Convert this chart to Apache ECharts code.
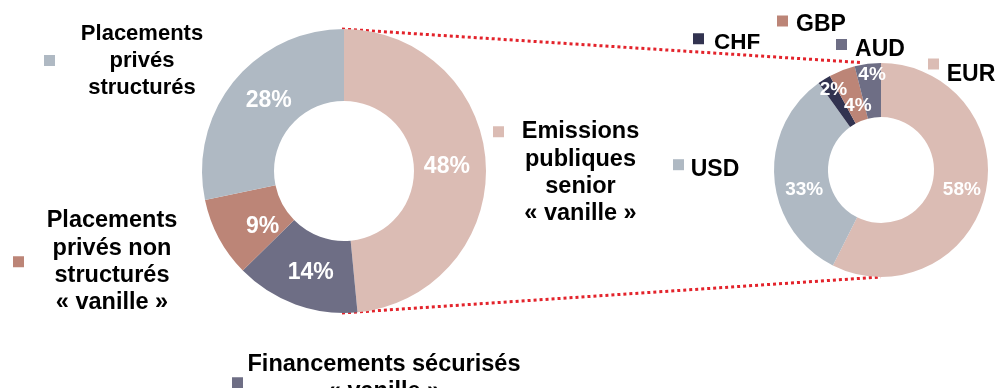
<!DOCTYPE html>
<html>
<head>
<meta charset="utf-8">
<style>
  html, body { margin: 0; padding: 0; background: #ffffff; }
  #chart { width: 1006px; height: 388px; }
</style>
<script src="https://cdn.jsdelivr.net/npm/echarts@6/dist/echarts.min.js"></script>
</head>
<body>
<div id="chart"></div>
<script>
// Répartition des financements par type (donut de gauche)
const typeNames = [
  'Emissions publiques senior « vanille »',
  'Financements sécurisés « vanille »',
  'Placements privés non structurés « vanille »',
  'Placements privés structurés'
];
const typeValues = [48, 14, 9, 28];
const typeLegendLines = [
  ['Emissions', 'publiques', 'senior', '« vanille »'],
  ['Financements sécurisés', '« vanille »'],
  ['Placements', 'privés non', 'structurés', '« vanille »'],
  ['Placements', 'privés', 'structurés']
];

// Répartition des émissions publiques par devise (donut de droite)
const currencyNames = ['EUR', 'USD', 'CHF', 'GBP', 'AUD'];
const currencyValues = [58, 33, 2, 4, 4];

const typeColors = ['#DBBCB4', '#6E6E85', '#BC8577', '#AFB9C3'];
const currencyColors = ['#DBBCB4', '#AFB9C3', '#323350', '#BC8577', '#6E6E85'];

// Donut geometry (pixels)
const leftPie = { center: [344, 171], radius: [70, 142] };
const rightPie = { center: [881, 170], radius: [53, 107] };

// Small nudges for the in-ring percentage labels
const typeLabelShift = [[-3, 1], [3, 2], [12, 6], [7, -4]];
const currencyLabelShift = [[3, 1], [3, 14], [-5, -12], [6, 10], [1, -16]];

const FONT = '"Liberation Sans", Arial, sans-serif';
const ICON = 11;

// Mid-ring point of slice i, measured clockwise from 12 o'clock
function midRingOffset(values, i, pie) {
  const total = values.reduce((a, b) => a + b, 0);
  const before = values.slice(0, i).reduce((a, b) => a + b, 0);
  const ang = (before + values[i] / 2) / total * 2 * Math.PI;
  const r = (pie.radius[0] + pie.radius[1]) / 2;
  return [r * Math.sin(ang), -r * Math.cos(ang)];
}

// Labels are anchored at the donut centre and pushed out to the ring
function pieData(names, values, colors, shifts, pie) {
  return names.map((n, i) => {
    const p = midRingOffset(values, i, pie);
    return {
      name: n,
      value: values[i],
      itemStyle: { color: colors[i] },
      label: { position: 'center', offset: [p[0] + shifts[i][0], p[1] + shifts[i][1]] }
    };
  });
}

// Legend entry: square at (left, markerY) with a centred text block beside it.
// padBefore / padAfter are blank heights (px) that move the text relative to the square.
function blockLegend(name, lines, o) {
  const pb = o.padBefore || 0;
  const pa = o.padAfter || 0;
  const rows = [];
  if (pb) rows.push('{s| }');
  lines.forEach(l => rows.push('{t|' + l + '}'));
  if (pa) rows.push('{e| }');
  const blockH = pb + pa + lines.length * o.lineHeight;
  const blockTop = o.markerY - blockH / 2;
  // the legend is placed by its visible box: the first glyph row or the square
  const firstRowH = pb || o.lineHeight;
  const boxTop = Math.min(o.markerY - ICON / 2, blockTop + (firstRowH - o.fontSize) / 2);
  const base = {
    width: o.width,
    align: 'center',
    fontFamily: FONT,
    fontWeight: 'bold',
    fontSize: o.fontSize,
    color: '#000000'
  };
  return {
    data: [name],
    left: o.left,
    top: boxTop,
    padding: 0,
    orient: 'vertical',
    icon: 'rect',
    itemWidth: ICON,
    itemHeight: ICON,
    selectedMode: false,
    formatter: () => rows.join('\n'),
    textStyle: {
      rich: {
        s: Object.assign({}, base, { lineHeight: pb }),
        e: Object.assign({}, base, { lineHeight: pa }),
        t: Object.assign({}, base, { lineHeight: o.lineHeight })
      }
    }
  };
}

const legends = [
  blockLegend(typeNames[0], typeLegendLines[0], { left: 493, markerY: 131.5, width: 143, lineHeight: 27.3, fontSize: 23.5, padBefore: 82 }),
  blockLegend(typeNames[1], typeLegendLines[1], { left: 232, markerY: 382.5, width: 272, lineHeight: 27, fontSize: 23.5, padAfter: 10 }),
  blockLegend(typeNames[2], typeLegendLines[2], { left: 13, markerY: 261.5, width: 166, lineHeight: 27.3, fontSize: 23.5 }),
  blockLegend(typeNames[3], typeLegendLines[3], { left: 44, markerY: 60.5, width: 164, lineHeight: 27, fontSize: 22 }),
  // currency codes: a small blank above lowers the word under its square's centre
  blockLegend('EUR', ['EUR'], { left: 928, markerY: 64, width: 54, lineHeight: 27, fontSize: 23, padBefore: 21 }),
  blockLegend('USD', ['USD'], { left: 673, markerY: 164.7, width: 52, lineHeight: 27, fontSize: 23, padBefore: 10 }),
  blockLegend('CHF', ['CHF'], { left: 693, markerY: 38.5, width: 56, lineHeight: 27, fontSize: 22.5, padBefore: 9 }),
  blockLegend('GBP', ['GBP'], { left: 777, markerY: 21, width: 56, lineHeight: 27, fontSize: 23, padBefore: 7 }),
  blockLegend('AUD', ['AUD'], { left: 836, markerY: 44.5, width: 56, lineHeight: 27, fontSize: 23, padBefore: 10 })
];

// Red dotted connectors from the left donut to the right one
const rad = a => a * Math.PI / 180;
const topStart = [leftPie.center[0] - 2, leftPie.center[1] - leftPie.radius[1]];
const topEnd = [rightPie.center[0] - rightPie.radius[1] * Math.sin(rad(10)),
                rightPie.center[1] - rightPie.radius[1] * Math.cos(rad(10)) - 2];
const botStart = [leftPie.center[0] - 2, leftPie.center[1] + leftPie.radius[1]];
const botEnd = [rightPie.center[0], rightPie.center[1] + rightPie.radius[1]];

const connectorStyle = { stroke: '#E3232B', lineWidth: 3, lineDash: [3, 3] };

function donut(pie, names, values, colors, shifts, fontSize) {
  return {
    type: 'pie',
    z: 3,
    center: pie.center,
    radius: pie.radius,
    startAngle: 90,
    clockwise: true,
    avoidLabelOverlap: false,
    minShowLabelAngle: 0,
    silent: true,
    label: {
      show: true,
      formatter: '{c}%',
      color: '#ffffff',
      fontFamily: FONT,
      fontWeight: 'bold',
      fontSize: fontSize
    },
    labelLine: { show: false },
    labelLayout: { hideOverlap: false },
    data: pieData(names, values, colors, shifts, pie)
  };
}

const chart = echarts.init(document.getElementById('chart'), null, { renderer: 'canvas' });
chart.setOption({
  animation: false,
  backgroundColor: '#ffffff',
  legend: legends,
  graphic: [
    { type: 'line', z: 0, shape: { x1: topStart[0], y1: topStart[1], x2: topEnd[0], y2: topEnd[1] }, style: connectorStyle },
    { type: 'line', z: 0, shape: { x1: botStart[0], y1: botStart[1], x2: botEnd[0], y2: botEnd[1] }, style: connectorStyle }
  ],
  series: [
    donut(leftPie, typeNames, typeValues, typeColors, typeLabelShift, 23),
    donut(rightPie, currencyNames, currencyValues, currencyColors, currencyLabelShift, 19)
  ]
});
</script>
</body>
</html>
